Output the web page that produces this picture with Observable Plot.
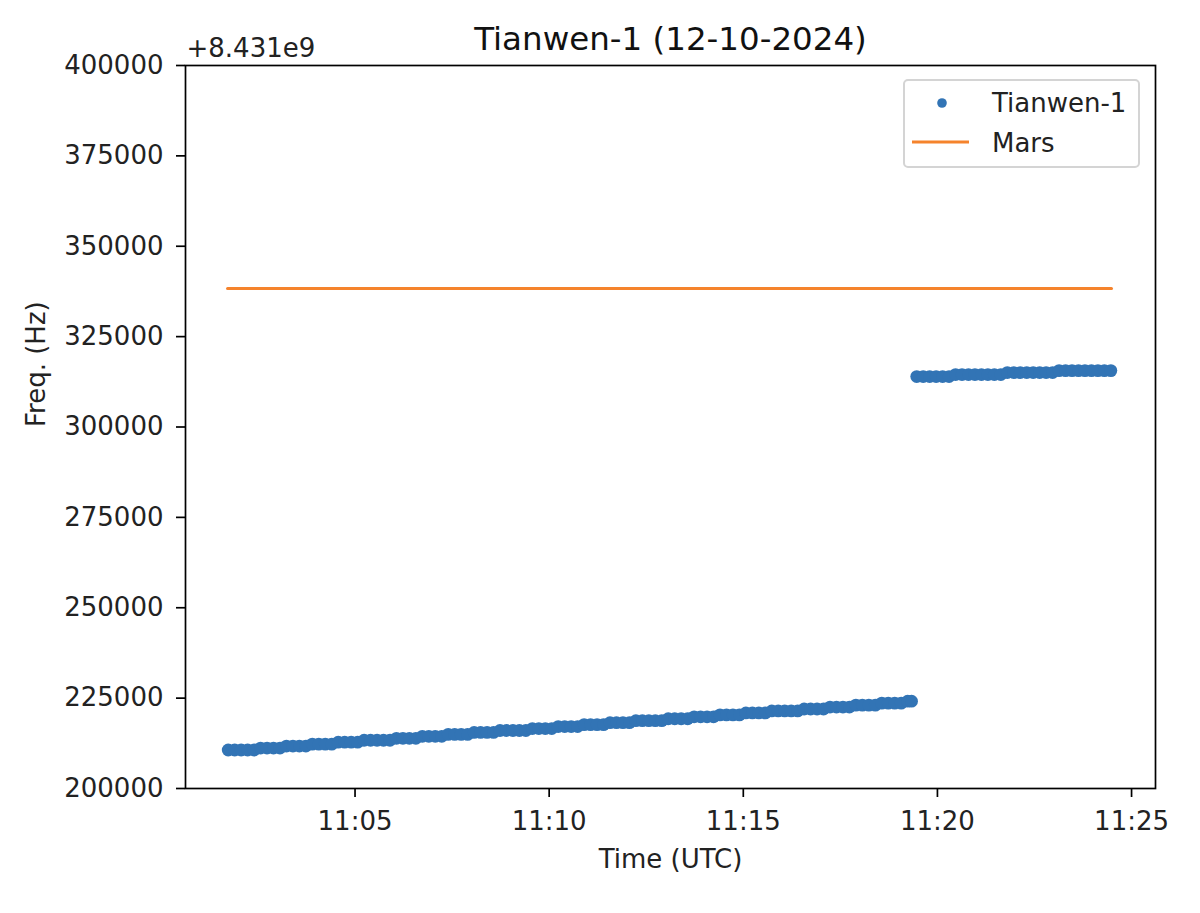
<!DOCTYPE html>
<html>
<head>
<meta charset="utf-8">
<script src="https://cdn.jsdelivr.net/npm/d3@7"></script>
<script src="https://cdn.jsdelivr.net/npm/@observablehq/plot@0.6"></script>
<style>
  html, body { margin: 0; padding: 0; background: #fff; }
  #wrap { position: relative; width: 1200px; height: 913px; font-family: "DejaVu Sans", sans-serif; }
  #legend {
    position: absolute; left: 903px; top: 79px; width: 233px; height: 85px;
    border: 2px solid #d4d4d4; border-radius: 5px; background: rgba(255,255,255,0.8);
  }
  #legend svg { position: absolute; left: 0; top: 0; }
  #legend .lab { position: absolute; left: 87px; font-size: 26px; color: #222; line-height: 26px; white-space: nowrap; }
</style>
</head>
<body>
<div id="wrap"></div>
<script>
// Frequencies are offsets (Hz) above 8.431e9; times are seconds after 11:00:00 UTC
const baseOffsetLabel = "+8.431e9";
const t1 = [104,114,124,134,144,154,164,174,184,194,204,214,224,234,244,254,264,274,284,294,304,314,324,334,344,354,364,374,384,394,404,414,424,434,444,454,464,474,484,494,504,514,524,534,544,554,564,574,584,594,604,614,624,634,644,654,664,674,684,694,704,714,724,734,744,754,764,774,784,794,804,814,824,834,844,854,864,874,884,894,904,914,924,934,944,954,964,974,984,994,1004,1014,1024,1034,1044,1054,1064,1074,1084,1094,1104,1114,1124,1134,1144,1154,1160];
const f1 = [210650,210650,210650,210650,210650,
  211190,211190,211190,211190,
  211730,211730,211730,211730,
  212270,212270,212270,212270,
  212810,212810,212810,212810,
  213350,213350,213350,213350,213350,
  213890,213890,213890,213890,
  214430,214430,214430,214430,
  214970,214970,214970,214970,
  215510,215510,215510,215510,
  216050,216050,216050,216050,216050,
  216590,216590,216590,216590,
  217130,217130,217130,217130,
  217670,217670,217670,217670,
  218210,218210,218210,218210,
  218750,218750,218750,218750,218750,
  219290,219290,219290,219290,
  219830,219830,219830,219830,
  220370,220370,220370,220370,
  220910,220910,220910,220910,
  221450,221450,221450,221450,221450,
  221990,221990,221990,221990,
  222530,222530,222530,222530,
  223070,223070,223070,223070,
  223610,223610,223610,223610,
  224150,224150];
const t2 = [1168,1178,1188,1198,1208,1218,1228,1238,1248,1258,1268,1278,1288,1298,1308,1318,1328,1338,1348,1358,1368,1378,1388,1398,1408,1418,1428,1438,1448,1458,1468];
const f2 = [313950,313950,313950,313950,313950,313950,
  314500,314500,314500,314500,314500,314500,314500,314500,
  315050,315050,315050,315050,315050,315050,315050,315050,
  315600,315600,315600,315600,315600,315600,315600,315600,315600];
const marsT = [103, 1469];
const marsF = [338300, 338300];
const xDomainSec = [38, 1537];
const yDomain = [200000, 400000];
const yTicks = [200000, 225000, 250000, 275000, 300000, 325000, 350000, 375000, 400000];
const xTickLabels = ["11:05", "11:10", "11:15", "11:20", "11:25"];
const seriesNames = ["Tianwen-1", "Mars"];
const titleText = "Tianwen-1 (12-10-2024)";
const xLabel = "Time (UTC)";
const yLabel = "Freq. (Hz)";

const blue = "#3274b5";
const orange = "#f5832c";

const base = Date.UTC(2024, 9, 12, 11, 0, 0);
const toDate = s => new Date(base + s * 1000);
const hm = s => { const [h, m] = s.split(":").map(Number); return new Date(Date.UTC(2024, 9, 12, h, m, 0)); };

const tianwen = t1.map((t, i) => ({t: toDate(t), f: f1[i]}))
  .concat(t2.map((t, i) => ({t: toDate(t), f: f2[i]})));
const mars = marsT.map((t, i) => ({t: toDate(t), f: marsF[i]}));

const font = "DejaVu Sans";
const chart = Plot.plot({
  width: 1200,
  height: 913,
  marginLeft: 185,
  marginRight: 45,
  marginTop: 65,
  marginBottom: 125,
  style: {fontFamily: font, fontSize: "26px", color: "#222", background: "#fff"},
  x: {type: "utc", domain: xDomainSec.map(toDate)},
  y: {domain: yDomain},
  marks: [
    Plot.line(mars, {x: "t", y: "f", stroke: orange, strokeWidth: 3}),
    Plot.dot(tianwen, {x: "t", y: "f", r: 6.4, fill: blue, stroke: null}),
    Plot.frame({stroke: "#000", strokeWidth: 1.7}),
    Plot.axisY({ticks: yTicks, tickFormat: d3.format("d"), tickSize: 9, tickPadding: 13, fontSize: 26, label: null, strokeWidth: 1.7, stroke: "#000"}),
    Plot.axisX({ticks: xTickLabels.map(hm), tickFormat: d3.utcFormat("%H:%M"), tickSize: 9, tickPadding: 14, fontSize: 26, label: null, strokeWidth: 1.7, stroke: "#000"}),
    Plot.text([titleText], {frameAnchor: "top", lineAnchor: "bottom", dy: -16, fontSize: 32.5, fill: "#111"}),
    Plot.text([baseOffsetLabel], {frameAnchor: "top-left", textAnchor: "start", lineAnchor: "bottom", dy: -8.5, dx: 1, fontSize: 26, fill: "#222"}),
    Plot.text([xLabel], {frameAnchor: "bottom", lineAnchor: "bottom", dy: 79, fontSize: 26, fill: "#222"}),
    Plot.text([yLabel], {frameAnchor: "left", rotate: -90, lineAnchor: "middle", dx: -149, fontSize: 26, fill: "#222"})
  ]
});

const wrap = document.getElementById("wrap");
wrap.appendChild(chart);

const legend = document.createElement("div");
legend.id = "legend";
legend.innerHTML = `
  <svg width="233" height="85">
    <circle cx="37" cy="22" r="4.8" fill="${blue}"></circle>
    <line x1="7" x2="64" y1="61" y2="61" stroke="${orange}" stroke-width="3"></line>
  </svg>
  <div class="lab" style="top:9px">${seriesNames[0]}</div>
  <div class="lab" style="top:49px">${seriesNames[1]}</div>`;
wrap.appendChild(legend);
</script>
</body>
</html>
